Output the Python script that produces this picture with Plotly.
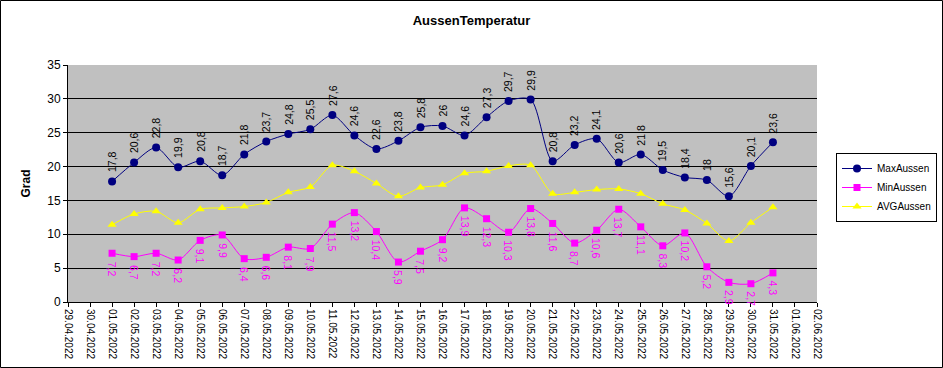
import plotly.graph_objects as go
import pandas as pd

dates = pd.date_range("2022-05-01", "2022-05-31", freq="D")
max_aussen = [17.8, 20.6, 22.8, 19.9, 20.8, 18.7, 21.8, 23.7, 24.8, 25.5, 27.6, 24.6, 22.6, 23.8, 25.8, 26,
              24.6, 27.3, 29.7, 29.9, 20.8, 23.2, 24.1, 20.6, 21.8, 19.5, 18.4, 18, 15.6, 20.1, 23.6]
min_aussen = [7.2, 6.7, 7.2, 6.2, 9.1, 9.9, 6.4, 6.6, 8.1, 7.9, 11.5, 13.2, 10.4, 5.9, 7.5, 9.2,
              13.9, 12.3, 10.3, 13.8, 11.6, 8.7, 10.6, 13.7, 11.1, 8.3, 10.2, 5.2, 2.9, 2.7, 4.3]
avg_aussen = [11.4, 13.0, 13.4, 11.7, 13.7, 13.9, 14.1, 14.7, 16.2, 17.0, 20.2, 19.3, 17.5, 15.6, 16.9, 17.3,
              19.0, 19.3, 20.1, 20.2, 16.0, 16.2, 16.6, 16.7, 16.0, 14.5, 13.6, 11.6, 9.0, 11.7, 14.0]

def fmt(v):
    s = ("%g" % v)
    return s.replace(".", ",")

fig = go.Figure()
fig.add_trace(go.Scatter(x=dates, y=max_aussen, name="MaxAussen", mode="lines+markers",
                         line=dict(color="#000080", width=1, shape="spline", smoothing=0.8),
                         marker=dict(symbol="circle", size=8, color="#000080")))
fig.add_trace(go.Scatter(x=dates, y=min_aussen, name="MinAussen", mode="lines+markers",
                         line=dict(color="#FF00FF", width=1, shape="spline", smoothing=0.8),
                         marker=dict(symbol="square", size=7, color="#FF00FF")))
fig.add_trace(go.Scatter(x=dates, y=avg_aussen, name="AVGAussen", mode="lines+markers",
                         line=dict(color="#FFFF00", width=1, shape="spline", smoothing=0.8),
                         marker=dict(symbol="triangle-up", size=8, color="#FFFF00")))

annotations = []
for d, v in zip(dates, max_aussen):
    annotations.append(dict(x=d, y=v, xref="x", yref="y", text=fmt(v), showarrow=False,
                            textangle=-90, yanchor="bottom", xanchor="center", yshift=7,
                            font=dict(family="Arial", size=10.5, color="black")))
for d, v in zip(dates, min_aussen):
    annotations.append(dict(x=d, y=v, xref="x", yref="y", text=fmt(v), showarrow=False,
                            textangle=90, yanchor="top", xanchor="center", yshift=-6,
                            font=dict(family="Arial", size=10.5, color="#FF00FF")))

W, H = 943, 368
L, R, T, B = 68, 126, 65, 66
pw, ph = W - L - R, H - T - B

fig.update_layout(
    width=W, height=H,
    margin=dict(l=L, r=R, t=T, b=B, autoexpand=False),
    paper_bgcolor="white", plot_bgcolor="#C0C0C0",
    title=dict(text="<b>AussenTemperatur</b>", x=0.5, xanchor="center", y=1 - 20 / H, yanchor="middle",
               font=dict(family="Arial", size=13, color="black")),
    font=dict(family="Arial", color="black"),
    showlegend=True,
    legend=dict(x=(836 - L) / pw, y=(H - B - 153) / ph, xanchor="left", yanchor="top",
                bgcolor="white", bordercolor="black", borderwidth=1,
                font=dict(family="Arial", size=10, color="black"), itemwidth=30,
                tracegroupgap=2),
    annotations=annotations,
    shapes=[dict(type="rect", xref="paper", yref="paper",
                 x0=(0.5 - L) / pw, x1=(W - 0.5 - L) / pw,
                 y0=-(B - 0.5) / ph, y1=(ph + T - 0.5) / ph,
                 line=dict(color="black", width=1))],
)
fig.update_xaxes(type="date", range=["2022-04-29", "2022-06-02"], dtick=86400000,
                 tick0="2022-04-29", tickformat="%d.%m.%Y", tickangle=90,
                 ticks="outside", ticklen=4, tickcolor="black", automargin=False,
                 showgrid=False, showline=True, linecolor="black", linewidth=1,
                 tickfont=dict(family="Arial", size=10, color="black"), zeroline=False)
fig.update_yaxes(range=[0, 35], dtick=5, ticks="outside", ticklen=4, tickcolor="black",
                 showgrid=True, gridcolor="black", gridwidth=1, automargin=False,
                 showline=True, linecolor="black", linewidth=1, zeroline=False,
                 tickfont=dict(family="Arial", size=12, color="black"),
                 title=dict(text="<b>Grad</b>", font=dict(family="Arial", size=12, color="black"), standoff=14))

fig.write_html("out.html", config={"displayModeBar": False},
               post_script="document.body.style.margin='0';document.body.style.overflow='hidden';")
